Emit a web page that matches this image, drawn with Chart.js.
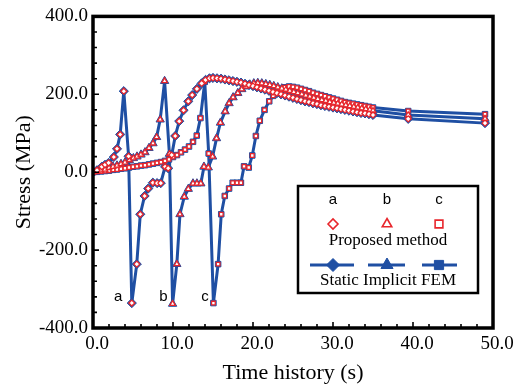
<!DOCTYPE html>
<html>
<head>
<meta charset="utf-8">
<script src="https://cdn.jsdelivr.net/npm/chart.js@4.4.0/dist/chart.umd.min.js"></script>
<style>
  html, body { margin: 0; padding: 0; background: #fff; }
  #wrap { width: 519px; height: 384px; position: relative; }
</style>
</head>
<body>
<div id="wrap"><canvas id="stress"></canvas></div>
<script>
// series a (diamonds)
const aTime = [0, 0.5, 1.1, 1.5, 1.95, 2.6, 3.0, 3.4, 3.85, 4.45, 4.85, 5.47, 5.91, 6.45, 6.9, 7.48, 8.02, 8.47, 9.01, 9.4,
  9.84, 10.28, 10.78, 11.32, 11.91, 12.4, 12.99, 13.58, 14.07, 14.56,
  15.0, 15.5, 16.0, 16.5, 17.0, 17.5, 18.0, 18.5, 19.0, 19.5, 20.0, 20.5, 21.0, 21.5, 22.0, 22.5, 23.0, 23.5, 24.0, 24.5,
  25.0, 25.5, 26.0, 26.5, 27.0, 27.5, 28.0, 28.5, 29.0, 29.5, 30.0, 30.5, 31.0, 31.5, 32.0, 32.5, 33.0, 33.5, 34.0, 34.5,
  35.0, 39.4, 49.0];
const aStress = [0, 5, 14, 19, 24, 39, 60, 97, 208, 41, -336, -236, -108, -61, -42, -27, -28, -28, 14, 10,
  44, 93, 131, 159, 182, 198, 214, 228, 237, 241,
  242, 241, 240, 238, 236, 234, 232, 230, 227, 224, 221, 218, 215, 212, 209, 206, 203, 200, 197, 194,
  191, 188, 185, 182, 180, 177, 175, 172, 170, 168, 166, 164, 162, 160, 158, 156, 154, 152, 151, 149,
  147, 137, 126];

// series b (triangles)
const bTime = [0, 0.5, 1.0, 1.5, 2.0, 2.5, 3.0, 3.5, 4.0, 4.55, 5.05, 5.5, 6.0, 6.5, 7.0, 7.5, 7.95, 8.4, 8.95, 9.55, 9.95,
  10.48, 10.87, 11.41, 11.91, 12.5, 12.99, 13.48, 13.87, 14.41, 14.95, 15.44, 15.93, 16.52, 17.01, 17.51, 18.1,
  18.6, 19.1, 19.6, 20.1, 20.6, 21.1, 21.6, 22.1, 22.6, 23.1, 23.6, 24.1, 24.6, 25.1, 25.6, 26.1, 26.6, 27.1, 27.6, 28.1,
  28.6, 29.1, 29.6, 30.1, 30.6, 31.1, 31.6, 32.1, 32.6, 33.1, 33.6, 34.1, 34.6,
  35.0, 39.4, 49.0];
const bStress = [0, 3, 5, 7, 11, 14, 17, 21, 25, 31, 36, 40, 45, 51, 62, 74, 90, 135, 234, 47, -338,
  -236, -108, -63, -43, -29, -29, -29, 14, 12, 40, 87, 127, 156, 177, 192, 203,
  213, 220, 225, 228, 229, 228, 226, 224, 221, 218, 215, 212, 209, 206, 203, 200, 197, 194, 191, 188,
  185, 183, 180, 178, 176, 174, 172, 170, 168, 166, 164, 162, 160,
  158, 147, 137];

// series c (squares)
const cTime = [0, 0.5, 1.0, 1.5, 2.0, 2.5, 3.0, 3.5, 4.0, 4.5, 5.0, 5.5, 6.0, 6.5, 7.0, 7.5, 8.0, 8.5, 9.0, 9.5,
  10.0, 10.5, 11.0, 11.5, 12.0, 12.5, 12.97, 13.43, 13.97, 14.46, 15.05,
  15.64, 16.03, 16.47, 17.01, 17.46, 18.0, 18.49, 18.88, 19.47, 19.91, 20.36, 20.85, 21.44, 22.03, 22.52, 23.01,
  23.5, 24.0, 24.5, 25.0, 25.5, 26.0, 26.5, 27.0, 27.5, 28.0, 28.5, 29.0, 29.5, 30.0, 30.5, 31.0, 31.5, 32.0, 32.5, 33.0,
  33.5, 34.0, 34.5, 35.0, 39.4, 49.0];
const cStress = [0, 1, 2, 3, 4, 6, 7, 9, 10, 12, 14, 15, 17, 18, 20, 22, 24, 26, 29, 33,
  39, 44, 51, 58, 66, 78, 94, 139, 232, 48, -336,
  -236, -108, -61, -42, -27, -27, -27, 15, 12, 43, 93, 132, 160, 182, 196, 206,
  213, 218, 220, 219, 217, 214, 211, 208, 204, 201, 198, 195, 192, 189, 186, 183, 180, 178, 176, 174,
  172, 170, 168, 166, 157, 149];

const xTicks = [0, 10, 20, 30, 40, 50];
const yTicks = [-400, -200, 0, 200, 400];
const seriesNames = ['a', 'b', 'c'];
const methodNames = ['Proposed method', 'Static Implicit FEM'];
const axisTitles = ['Time history (s)', 'Stress (MPa)'];
// where the a/b/c notes sit, in data units
const noteTime = [3.16, 8.8, 14.0];
const noteStress = -320;

const blue = '#1f4fa3';
const red = '#e8262c';
const serif = "'Times New Roman', 'Liberation Serif', serif";
const sans = "Arial, 'Liberation Sans', sans-serif";
const shapes = ['rectRot', 'triangle', 'rect'];
const femR = [4.6, 4.8, 3.9];
const propR = [3.0, 3.2, 2.6];

const pts = (t, s) => t.map((v, i) => ({ x: v, y: s[i] }));
const series = [pts(aTime, aStress), pts(bTime, bStress), pts(cTime, cStress)];

const datasets = [];
series.forEach((d, i) => {
  datasets.push({
    label: methodNames[1] + ' ' + seriesNames[i],
    data: d,
    borderColor: blue,
    borderWidth: 3,
    pointStyle: shapes[i],
    pointRadius: femR[i],
    pointBackgroundColor: blue,
    pointBorderColor: blue,
    pointBorderWidth: 1,
    tension: 0,
    order: 2
  });
});
series.forEach((d, i) => {
  datasets.push({
    label: methodNames[0] + ' ' + seriesNames[i],
    data: d,
    showLine: false,
    pointStyle: shapes[i],
    pointRadius: propR[i],
    pointBackgroundColor: '#fff',
    pointBorderColor: red,
    pointBorderWidth: 1.3,
    order: 1
  });
});

// frame, inward ticks, notes and the boxed legend
const decor = {
  id: 'decor',
  afterDraw(chart) {
    const { ctx, chartArea: ca, scales: { x, y } } = chart;
    ctx.save();
    ctx.strokeStyle = '#000';
    ctx.lineWidth = 1.6;
    ctx.beginPath();
    for (let v = -400; v <= 400; v += 40) {
      const py = y.getPixelForValue(v);
      const len = v % 200 === 0 ? 6 : 4;
      ctx.moveTo(ca.left, py);
      ctx.lineTo(ca.left + len, py);
    }
    for (let v = 0; v <= 50; v += 2) {
      const px = x.getPixelForValue(v);
      const len = v % 10 === 0 ? 6 : 4;
      ctx.moveTo(px, ca.bottom);
      ctx.lineTo(px, ca.bottom - len);
    }
    ctx.stroke();
    ctx.lineWidth = 3.5;
    ctx.strokeRect(ca.left, ca.top, ca.right - ca.left, ca.bottom - ca.top);

    // a b c notes
    ctx.fillStyle = '#000';
    ctx.font = '15px ' + sans;
    ctx.textAlign = 'center';
    ctx.textBaseline = 'middle';
    seriesNames.forEach((n, i) => {
      ctx.fillText(n, x.getPixelForValue(noteTime[i]), y.getPixelForValue(noteStress));
    });

    // legend box
    const bx = 298, by = 186, bw = 180, bh = 107;
    ctx.fillStyle = '#fff';
    ctx.fillRect(bx, by, bw, bh);
    ctx.lineWidth = 2.5;
    ctx.strokeStyle = '#000';
    ctx.strokeRect(bx, by, bw, bh);
    const cols = [333, 387, 439];
    ctx.fillStyle = '#000';
    ctx.font = '15px ' + sans;
    seriesNames.forEach((n, i) => ctx.fillText(n, cols[i], 200));
    ctx.font = '17px ' + serif;
    ctx.fillText(methodNames[0], 388, 241);
    ctx.fillText(methodNames[1], 388, 281);
    const lineSpan = [[310, 354], [368, 405], [422, 457]];
    const legR = [6.5, 7, 6.5];
    const legHollow = [5, 5.5, 5.5];
    cols.forEach((cx, i) => {
      ctx.strokeStyle = red;
      ctx.fillStyle = '#fff';
      ctx.lineWidth = 1.6;
      Chart.helpers.drawPoint(ctx, { pointStyle: shapes[i], radius: legHollow[i], rotation: 0, borderWidth: 1.6 }, cx, 224);
      ctx.strokeStyle = blue;
      ctx.lineWidth = 2.8;
      ctx.beginPath();
      ctx.moveTo(lineSpan[i][0], 265);
      ctx.lineTo(lineSpan[i][1], 265);
      ctx.stroke();
      ctx.fillStyle = blue;
      ctx.lineWidth = 1;
      Chart.helpers.drawPoint(ctx, { pointStyle: shapes[i], radius: legR[i], rotation: 0, borderWidth: 1 }, cx, 265);
    });
    ctx.restore();
  }
};

new Chart(document.getElementById('stress'), {
  type: 'line',
  data: { datasets: datasets },
  options: {
    responsive: true,
    maintainAspectRatio: false,
    animation: false,
    layout: { padding: { top: 13, right: 26, left: 0, bottom: 0 } },
    plugins: { legend: { display: false }, tooltip: { enabled: false } },
    scales: {
      x: {
        type: 'linear',
        min: 0,
        max: 50,
        afterBuildTicks: s => { s.ticks = xTicks.map(v => ({ value: v })); },
        afterFit: s => { s.height = 56; },
        grid: { display: false, drawTicks: false },
        border: { display: false },
        ticks: {
          color: '#000',
          padding: 5,
          labelOffset: 4,
          maxRotation: 0,
          font: { family: serif, size: 19 },
          callback: v => v.toFixed(1)
        },
        title: {
          display: true,
          text: axisTitles[0],
          color: '#000',
          font: { family: serif, size: 22, lineHeight: 1 },
          padding: { top: 0, bottom: 0 }
        }
      },
      y: {
        type: 'linear',
        min: -400,
        max: 400,
        afterBuildTicks: s => { s.ticks = yTicks.map(v => ({ value: v })); },
        afterFit: s => { s.width = 93; },
        grid: { display: false, drawTicks: false },
        border: { display: false },
        ticks: {
          color: '#000',
          padding: 5,
          font: { family: serif, size: 19 },
          callback: v => v.toFixed(1)
        },
        title: {
          display: true,
          text: axisTitles[1],
          color: '#000',
          font: { family: serif, size: 22, lineHeight: 1.2 },
          padding: { top: 11, bottom: 0 }
        }
      }
    }
  },
  plugins: [decor]
});
</script>
</body>
</html>
